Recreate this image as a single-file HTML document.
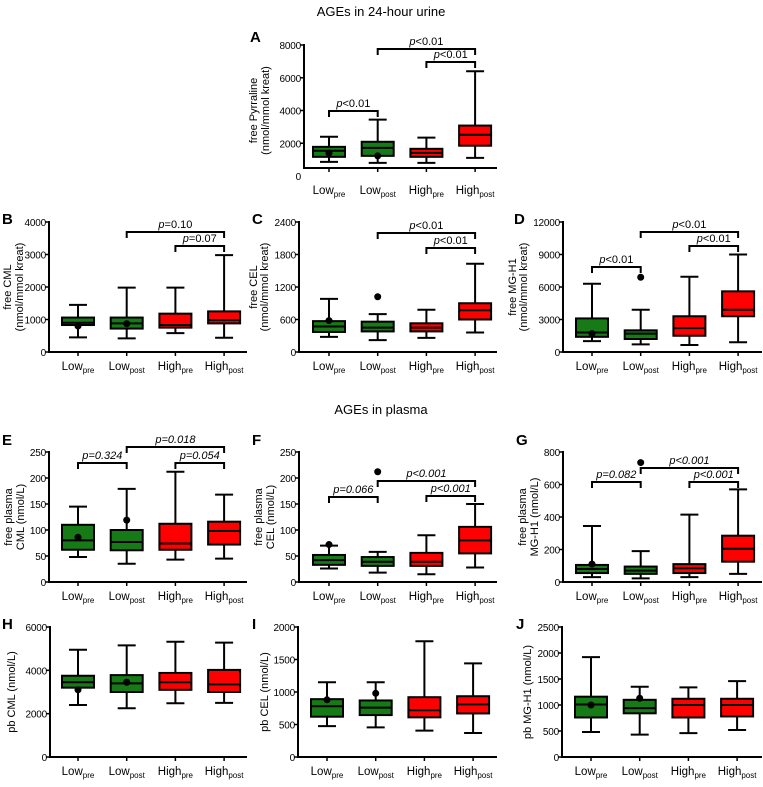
<!DOCTYPE html>
<html><head><meta charset="utf-8"><style>
html,body{margin:0;padding:0;background:#fff;width:763px;height:787px;overflow:hidden}
svg{display:block;font-family:"Liberation Sans",Arial,sans-serif}
</style></head><body>
<svg id="fig" width="763" height="787" viewBox="0 0 763 787" xmlns="http://www.w3.org/2000/svg">
<text x="381" y="16" font-size="13" text-anchor="middle">AGEs in 24-hour urine</text>
<text x="381" y="414" font-size="13" text-anchor="middle">AGEs in plasma</text>
</svg>
<script>
const categories = ["Low|pre","Low|post","High|pre","High|post"];
// Panel A
const A_min=[860,800,800,1110], A_q1=[1170,1230,1170,1850], A_med=[1540,1720,1410,2520], A_q3=[1780,2090,1660,3080], A_max=[2400,3440,2340,6400], A_mean=[1400,1230,null,null], A_out=[null,null,null,null];
const A_ticks=[0,2000,4000,6000,8000];
// Panel B
const B_min=[450,420,580,440], B_q1=[830,720,750,880], B_med=[900,880,830,980], B_q3=[1060,1060,1180,1250], B_max=[1450,1980,1980,2980], B_mean=[800,870,null,null], B_out=[null,null,null,null];
const B_ticks=[0,1000,2000,3000,4000];
// Panel C
const C_min=[280,220,260,360], C_q1=[370,380,380,600], C_med=[470,450,450,770], C_q3=[570,560,530,900], C_max=[980,700,780,1630], C_mean=[580,null,null,null], C_out=[null,1020,null,null];
const C_ticks=[0,600,1200,1800,2400];
// Panel D
const D_min=[1000,700,650,900], D_q1=[1400,1200,1500,3300], D_med=[1800,1700,2200,3900], D_q3=[3100,2000,3300,5600], D_max=[6300,3900,6950,9000], D_mean=[1700,null,null,null], D_out=[null,6900,null,null];
const D_ticks=[0,3000,6000,9000,12000];
// Panel E
const E_min=[48,35,43,45], E_q1=[62,61,62,72], E_med=[80,77,74,98], E_q3=[110,100,112,116], E_max=[145,179,212,168], E_mean=[86,119,null,null], E_out=[null,null,null,null];
const E_ticks=[0,50,100,150,200,250];
// Panel F
const F_min=[26,18,15,28], F_q1=[33,31,31,55], F_med=[42,39,39,80], F_q3=[52,48,56,106], F_max=[70,58,90,150], F_mean=[72,null,null,null], F_out=[null,212,null,null];
const F_ticks=[0,50,100,150,200,250];
// Panel G
const G_min=[30,22,30,50], G_q1=[55,50,55,125], G_med=[80,70,85,205], G_q3=[105,95,110,285], G_max=[345,190,415,570], G_mean=[110,null,null,null], G_out=[null,735,null,null];
const G_ticks=[0,200,400,600,800];
// Panel H
const H_min=[2400,2250,2480,2500], H_q1=[3200,3000,3100,3000], H_med=[3450,3400,3450,3350], H_q3=[3750,3780,3880,4020], H_max=[4950,5150,5320,5280], H_mean=[3100,3450,null,null], H_out=[null,null,null,null];
const H_ticks=[0,2000,4000,6000];
// Panel I
const I_min=[475,455,405,370], I_q1=[620,645,610,670], I_med=[780,760,720,810], I_q3=[890,870,920,935], I_max=[1150,1150,1780,1440], I_mean=[880,980,null,null], I_out=[null,null,null,null];
const I_ticks=[0,500,1000,1500,2000];
// Panel J
const J_min=[480,430,460,520], J_q1=[760,840,760,780], J_med=[1010,940,1000,1000], J_q3=[1160,1100,1120,1120], J_max=[1920,1350,1340,1460], J_mean=[1000,1130,null,null], J_out=[null,null,null,null];
const J_ticks=[0,500,1000,1500,2000,2500];

const S = {A:[A_min,A_q1,A_med,A_q3,A_max,A_mean,A_out,A_ticks],B:[B_min,B_q1,B_med,B_q3,B_max,B_mean,B_out,B_ticks],C:[C_min,C_q1,C_med,C_q3,C_max,C_mean,C_out,C_ticks],D:[D_min,D_q1,D_med,D_q3,D_max,D_mean,D_out,D_ticks],E:[E_min,E_q1,E_med,E_q3,E_max,E_mean,E_out,E_ticks],F:[F_min,F_q1,F_med,F_q3,F_max,F_mean,F_out,F_ticks],G:[G_min,G_q1,G_med,G_q3,G_max,G_mean,G_out,G_ticks],H:[H_min,H_q1,H_med,H_q3,H_max,H_mean,H_out,H_ticks],I:[I_min,I_q1,I_med,I_q3,I_max,I_mean,I_out,I_ticks],J:[J_min,J_q1,J_med,J_q3,J_max,J_mean,J_out,J_ticks]};

const layout = [
 {id:'A',ax:304,top:45,zero:176,xline:168,off:25,end:497,letter:[250,37],yt:["free Pyrraline","(nmol/mmol kreat)"],ytx:[253,265],br:[[0,1,111,"<0.01",false],[1,3,49,"<0.01",false],[2,3,62,"<0.01",false]]},
 {id:'B',ax:49,top:222,zero:352,off:29,end:247,letter:[2,219],yt:["free CML","(nmol/mmol kreat)"],ytx:[7,19],br:[[1,3,232,"=0.10",false],[2,3,246,"=0.07",false]]},
 {id:'C',ax:299,top:222,zero:352,off:30,end:497,letter:[252,219],yt:["free CEL","(nmol/mmol kreat)"],ytx:[253,264],br:[[1,3,233,"<0.01",false],[2,3,248,"<0.01",false]]},
 {id:'D',ax:563,top:222,zero:352,off:29,end:762,letter:[514,219],yt:["free MG-H1","(nmol/mmol kreat)"],ytx:[512,523],br:[[0,1,267,"<0.01",false],[1,3,232,"<0.01",false],[2,3,246,"<0.01",false]]},
 {id:'E',ax:49,top:452,zero:582,off:29,end:247,letter:[2,440],yt:["free plasma","CML (nmol/L)"],ytx:[8,20],br:[[0,1,463,"=0.324",true],[1,3,447,"=0.018",true],[2,3,463,"=0.054",true]]},
 {id:'F',ax:299,top:452,zero:582,off:30,end:497,letter:[252,440],yt:["free plasma","CEL (nmol/L)"],ytx:[258,270],br:[[0,1,497,"=0.066",true],[1,3,481,"<0.001",true],[2,3,496,"<0.001",true]]},
 {id:'G',ax:563,top:452,zero:582,off:29,end:762,letter:[516,440],yt:["free plasma","MG-H1 (nmol/L)"],ytx:[522,534],br:[[0,1,482,"=0.082",true],[1,3,468,"<0.001",true],[2,3,482,"<0.001",true]]},
 {id:'H',ax:50,top:627,zero:757,off:28,end:247,letter:[2,624],yt:["pb CML (nmol/L)"],ytx:[11],br:[]},
 {id:'I',ax:298,top:627,zero:757,off:29,end:497,letter:[252,624],yt:["pb CEL (nmol/L)"],ytx:[264],br:[]},
 {id:'J',ax:562,top:627,zero:757,off:29,end:762,letter:[516,624],yt:["pb MG-H1 (nmol/L)"],ytx:[527],br:[]}
];
const svg=document.getElementById('fig');
const NS='http://www.w3.org/2000/svg';
function mk(tag,attrs,parent){const e=document.createElementNS(NS,tag);for(const k in attrs)e.setAttribute(k,attrs[k]);(parent||svg).appendChild(e);return e;}
const GREEN='#167a16', RED='#ff0000';
layout.forEach(p=>{
  const [mn,q1,md,q3,mx,mean,out,ticks]=S[p.id];
  const max=ticks[ticks.length-1];
  const y=v=>p.zero-(v/max)*(p.zero-p.top);
  const x=i=>p.ax+p.off+i*48.7;
  const g=mk('g',{});
  
  
  const L=mk('text',{x:p.letter[0],y:p.letter[1]+5,'font-size':15,'font-weight':'bold'},g);L.textContent=p.id;
  
  
  const xl=p.xline||p.zero;
  const axis=mk('path',{d:`M${p.ax},${p.top-1}V${xl+1}M${p.ax-1},${xl}H${p.end}`,stroke:'#000','stroke-width':2,fill:'none'},g);
  
  
  ticks.forEach(t=>{
    const ty=y(t);
    if(!(p.xline&&t===0))mk('line',{x1:p.ax-4,x2:p.ax,y1:ty,y2:ty,stroke:'#000','stroke-width':1.5},g);
    const tl=mk('text',{x:p.ax-3,y:ty+4,'font-size':10,'text-anchor':'end','letter-spacing':'-0.2'},g);tl.textContent=t;
    
    
  });
  const cy=(p.top+p.zero)/2;
  p.yt.forEach((s,k)=>{const t=mk('text',{x:0,y:0,'font-size':11,'text-anchor':'middle',transform:`translate(${p.ytx[k]+4},${cy}) rotate(-90)`},g);t.textContent=s;
    
    });
  categories.forEach((c,i)=>{
    const cx=x(i);const [a,b]=c.split('|');
    const t=mk('text',{x:cx,y:p.zero+18,'font-size':11.5,'text-anchor':'middle'},g);
    
    
    const s1=mk('tspan',{},t);s1.textContent=a;
    const s2=mk('tspan',{'font-size':8,dy:3},t);s2.textContent=b;
    mk('line',{x1:cx,x2:cx,y1:xl,y2:xl+4,stroke:'#000','stroke-width':1.5},g);
    const fill=i<2?GREEN:RED;const w=32;
    const bg=mk('g',{},g);
    
    
    mk('path',{d:`M${cx},${y(mn[i])}V${y(q1[i])}M${cx},${y(q3[i])}V${y(mx[i])}M${cx-9},${y(mn[i])}H${cx+9}M${cx-9},${y(mx[i])}H${cx+9}`,stroke:'#000','stroke-width':2,fill:'none'},bg);
    mk('rect',{x:cx-w/2,y:y(q3[i]),width:w,height:y(q1[i])-y(q3[i]),fill:fill,stroke:'#000','stroke-width':2},bg);
    mk('line',{x1:cx-w/2,x2:cx+w/2,y1:y(md[i]),y2:y(md[i]),stroke:'#000','stroke-width':2},bg);
    if(mean[i]!=null)mk('circle',{cx:cx,cy:y(mean[i]),r:3.5,fill:'#000'},bg);
    if(out[i]!=null)mk('circle',{cx:cx,cy:y(out[i]),r:3.5,fill:'#000'},bg);
  });
  p.br.forEach(([i,j,by,lab,it])=>{
    const bb=mk('path',{d:`M${x(i)},${by+6}V${by}H${x(j)}V${by+6}`,stroke:'#000','stroke-width':2,fill:'none'},g);
    
    
    const t=mk('text',{x:(x(i)+x(j))/2,y:by-4,'font-size':11,'text-anchor':'middle'},g);
    
    
    const s1=mk('tspan',{'font-style':'italic'},t);s1.textContent='p';
    const s2=mk('tspan',it?{'font-style':'italic'}:{},t);s2.textContent=lab;
  });
});
</script>
</body></html>
